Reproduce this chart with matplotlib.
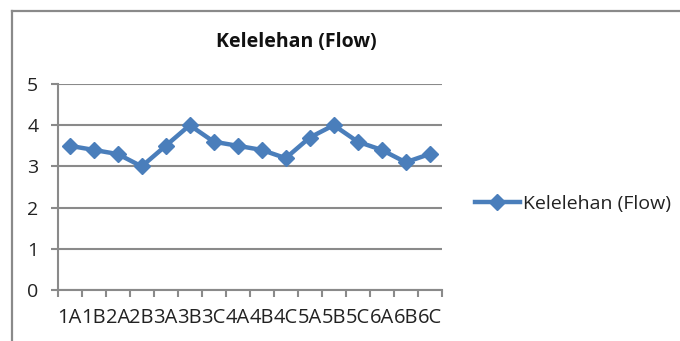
import matplotlib
matplotlib.use("Agg")
import matplotlib.pyplot as plt
from matplotlib.lines import Line2D

categories = ["1A", "1B", "2A", "2B", "3A", "3B", "3C", "4A", "4B", "4C",
              "5A", "5B", "5C", "6A", "6B", "6C"]
values = [3.5, 3.4, 3.3, 3.0, 3.5, 4.0, 3.6, 3.5, 3.4, 3.2,
          3.7, 4.0, 3.6, 3.4, 3.1, 3.3]
series_name = "Kelelehan (Flow)"
title = "Kelelehan (Flow)"
yticks = [0, 1, 2, 3, 4, 5]

plt.rcParams['font.family'] = ['Open Sans', 'DejaVu Sans']
W, H = 680, 341
fig = plt.figure(figsize=(W / 100, H / 100), dpi=100)

# outer chart frame (partially visible)
gray = "#8a8a8a"
fig.add_artist(Line2D([12 / W, 12 / W], [0, 1 - 11 / H], color=gray, lw=1.6,
                      transform=fig.transFigure))
fig.add_artist(Line2D([12 / W, 1], [1 - 11 / H, 1 - 11 / H], color=gray, lw=1.6,
                      transform=fig.transFigure))

left, right, top, bottom = 57.7, 441.7, 84, 290
ax = fig.add_axes([left / W, 1 - bottom / H, (right - left) / W, (bottom - top) / H])

x = list(range(len(categories)))
color = "#4a7ebb"
ax.plot(x, values, color=color, lw=3.2, marker="D", markersize=8,
        markerfacecolor=color, markeredgecolor=color, label=series_name)

ax.set_xlim(-0.5, len(categories) - 0.5)
ax.set_ylim(0, 5)
ax.set_yticks(yticks)
ax.set_xticks(x)
ax.set_xticklabels(categories)
ax.set_xticks([i - 0.5 for i in range(len(categories) + 1)], minor=True)

ax.grid(axis="y", color=gray, lw=1.5)
ax.set_axisbelow(True)
for s in ["top", "right"]:
    ax.spines[s].set_visible(False)
for s in ["left", "bottom"]:
    ax.spines[s].set_color(gray)
    ax.spines[s].set_linewidth(1.5)

ax.tick_params(axis="x", which="major", length=0, pad=13, labelsize=14.5,
               labelcolor="#222222")
ax.tick_params(axis="x", which="minor", length=5, width=1.5, color=gray,
               direction="out")
ax.tick_params(axis="y", length=5, width=1.5, color=gray, pad=9,
               labelsize=14, labelcolor="#222222")

fig.text(296 / W, 1 - 42 / H, title, ha="center", va="center",
         fontsize=14, fontweight="bold", color="#111111")

fig.legend(loc="center left", bbox_to_anchor=(475 / W, 1 - 204 / H),
           frameon=False, borderpad=0, borderaxespad=0, handlelength=2.3,
           handletextpad=0.15, fontsize=14, labelcolor="#222222")

fig.savefig("out.png", dpi=100)
